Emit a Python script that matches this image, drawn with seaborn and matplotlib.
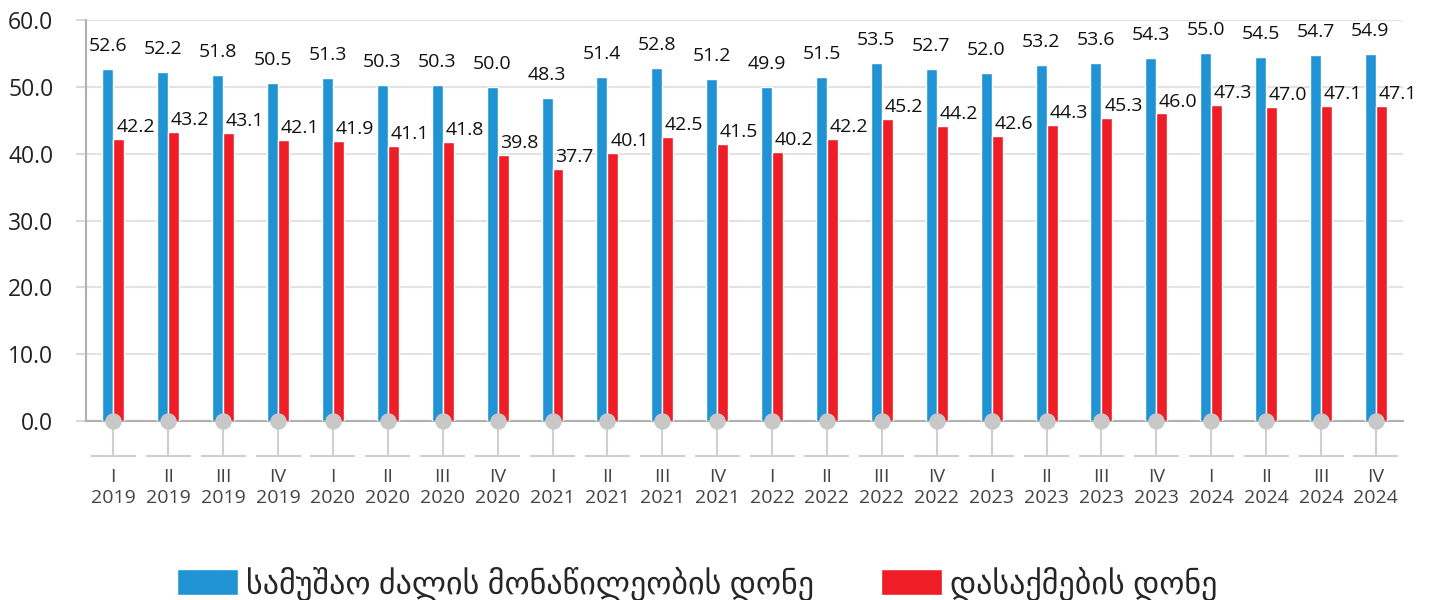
import pandas as pd
import numpy as np
import matplotlib
matplotlib.use("Agg")
import matplotlib.pyplot as plt
import seaborn as sns

# Data
quarters = ["I", "II", "III", "IV"] * 6
years = ["2019"] * 4 + ["2020"] * 4 + ["2021"] * 4 + ["2022"] * 4 + ["2023"] * 4 + ["2024"] * 4
participation = [52.6, 52.2, 51.8, 50.5, 51.3, 50.3, 50.3, 50.0, 48.3, 51.4, 52.8, 51.2,
                 49.9, 51.5, 53.5, 52.7, 52.0, 53.2, 53.6, 54.3, 55.0, 54.5, 54.7, 54.9]
employment = [42.2, 43.2, 43.1, 42.1, 41.9, 41.1, 41.8, 39.8, 37.7, 40.1, 42.5, 41.5,
              40.2, 42.2, 45.2, 44.2, 42.6, 44.3, 45.3, 46.0, 47.3, 47.0, 47.1, 47.1]
series_names = ["სამუშაო ძალის მონაწილეობის დონე", "დასაქმების დონე"]

labels = [q + "\n" + y for q, y in zip(quarters, years)]
df = pd.DataFrame({
    "period": labels * 2,
    "value": participation + employment,
    "series": [series_names[0]] * len(labels) + [series_names[1]] * len(labels),
})

sns.set_style("white")
plt.rcParams["font.family"] = ["Open Sans", "DejaVu Sans"]

fig = plt.figure(figsize=(14.32, 6), dpi=100)
ax = fig.add_axes([0.060, 0.298, 0.920, 0.669])

sns.barplot(data=df, x="period", y="value", hue="series", width=0.4,
            palette=["#1F93D3", "#EE1D26"], saturation=1, ax=ax, zorder=3,
            legend=True)

ax.set_ylim(0, 60)
ax.set_xlim(-0.5, 23.5)
ax.set_yticks(np.arange(0, 61, 10))
ax.set_yticklabels([f"{v:.1f}" for v in np.arange(0, 61, 10)], fontsize=16.5, color="#222222")
ax.yaxis.grid(True, color="#E3E3E3", linewidth=1.5, zorder=0)
ax.tick_params(axis="y", length=7.5, width=1.5, color="#D9D9D9", pad=16, left=True)
ax.tick_params(axis="x", length=0, pad=34, labelsize=14, labelcolor="#444444")
ax.set_xlabel("")
ax.set_ylabel("")

for s in ["top", "right"]:
    ax.spines[s].set_visible(False)
ax.spines["left"].set_color("#B0B0B0")
ax.spines["bottom"].set_color("#B0B0B0")
ax.spines["left"].set_linewidth(1.5)
ax.spines["bottom"].set_linewidth(1.5)

# value labels
x = np.arange(len(labels))
for i in x:
    ax.annotate(f"{participation[i]:.1f}", (i - 0.1, participation[i]), xytext=(0, 10),
                textcoords="offset points", ha="center", va="bottom", fontsize=14, color="#111111")
    ax.annotate(f"{employment[i]:.1f}", (i, employment[i]), xytext=(2, 2),
                textcoords="offset points", ha="left", va="bottom", fontsize=14, color="#111111")

# markers below the axis
ax.vlines(x, -5.2, 0, color="#D0D0D0", linewidth=1.5, clip_on=False, zorder=2)
ax.hlines(np.full(len(x), -5.2), x - 0.41, x + 0.41, color="#D0D0D0", linewidth=1.5, clip_on=False)
ax.scatter(x, np.zeros(len(x)), s=140, color="#C8C8C8", clip_on=False, zorder=5, linewidths=0)

ax.get_legend().remove()
handles, names = ax.get_legend_handles_labels()
fig.legend(handles, names, loc="center", bbox_to_anchor=(0.487, 0.027), ncol=2, frameon=False,
           fontsize=23, handlelength=1.9, handleheight=0.9, columnspacing=2.1, handletextpad=0.25)

fig.savefig("out.png", dpi=100)
